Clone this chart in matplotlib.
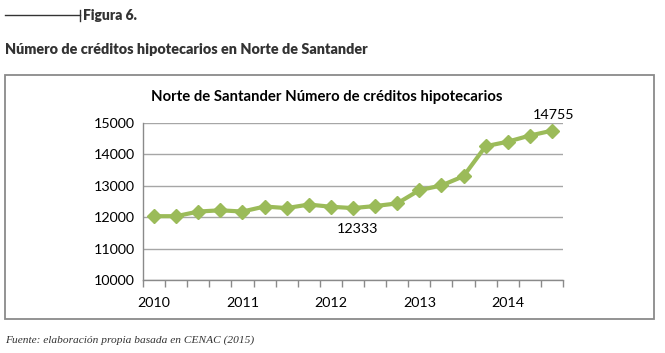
import matplotlib
matplotlib.use("Agg")
import matplotlib.pyplot as plt
from matplotlib.patches import Rectangle
from matplotlib.lines import Line2D
import numpy as np

# ---- data ----
quarters = ["2010", "", "", "", "2011", "", "", "", "2012", "", "", "",
            "2013", "", "", "", "2014", "", ""]
values = [12032, 12032, 12180, 12220, 12180, 12340, 12290, 12403, 12333,
          12290, 12355, 12440, 12860, 13010, 13305, 14260, 14405, 14600, 14755]
yticks = [10000, 11000, 12000, 13000, 14000, 15000]
labeled_idx = [8, 18]

W, H = 665, 353
fig = plt.figure(figsize=(W / 100, H / 100), dpi=100)

def fx(px):
    return px / W

def fy(py):
    return 1 - py / H

cond = ["Lato", "DejaVu Sans"]
cal = ["Lato", "DejaVu Sans"]

# header line with small tick
fig.add_artist(Line2D([fx(5), fx(80)], [fy(15), fy(15)], color="#333333", lw=1.0))
fig.add_artist(Line2D([fx(80), fx(80)], [fy(10), fy(21)], color="#333333", lw=1.0))
fig.text(fx(83), fy(15), "Figura 6.", family=cond, weight="heavy", fontsize=10,
         color="#333333", va="center", ha="left")
fig.text(fx(5), fy(49), "Número de créditos hipotecarios en Norte de Santander",
         family=cond, weight="heavy", fontsize=10.4, color="#333333", va="center", ha="left")

# chart box
fig.add_artist(Rectangle((fx(5), fy(318.5)), fx(654) - fx(5), fy(74.5) - fy(318.5),
                         fill=False, edgecolor="#8a8a8a", lw=1.3))

fig.text(fx(327), fy(97), "Norte de Santander Número de créditos hipotecarios",
         family=cal, weight="bold", fontsize=10.7, color="black", ha="center", va="center")

# axes
ax_l, ax_r, ax_t, ax_b = 143, 563, 123, 280
ax = fig.add_axes([fx(ax_l), fy(ax_b), fx(ax_r) - fx(ax_l), fy(ax_t) - fy(ax_b)])
n = len(values)
x = np.arange(n)
ax.plot(x, values, color="#9bbb59", lw=3, marker="D", markersize=7,
        markeredgecolor="#9bbb59", zorder=3, solid_joinstyle="round")
ax.set_xlim(-0.5, n - 0.5)
ax.set_ylim(yticks[0], yticks[-1])
ax.set_yticks(yticks)
ax.set_yticklabels([str(v) for v in yticks], family=cal, fontsize=10.3)
ax.yaxis.grid(True, color="#a6a6a6", lw=1.0)
ax.set_axisbelow(True)
ax.tick_params(axis="y", length=0, pad=6)

# category boundary ticks on x
ax.set_xticks(np.arange(n + 1) - 0.5)
ax.set_xticklabels([])
ax.tick_params(axis="x", which="major", direction="out", length=5, color="#8a8a8a", width=1)
ax.set_xticks(x, minor=True)
ax.set_xticklabels(quarters, minor=True, family=cal, fontsize=10.3)
ax.tick_params(axis="x", which="minor", length=0, pad=12)

for s in ["top", "right"]:
    ax.spines[s].set_visible(False)
ax.spines["left"].set_color("#8a8a8a")
ax.spines["bottom"].set_color("#8a8a8a")
ax.spines["left"].set_linewidth(1)
ax.spines["bottom"].set_linewidth(1)

# data labels
i = labeled_idx[0]
ax.annotate(str(values[i]), (x[i], values[i]), xytext=(19, -12), textcoords="offset points",
            ha="center", va="top", family=cal, fontsize=10.3, annotation_clip=False)
i = labeled_idx[1]
ax.annotate(str(values[i]), (x[i], values[i]), xytext=(1, 7), textcoords="offset points",
            ha="center", va="bottom", family=cal, fontsize=10.3, annotation_clip=False)

fig.text(fx(5), fy(340), "Fuente: elaboración propia basada en CENAC (2015)",
         family=["Liberation Serif", "DejaVu Serif"], style="italic", fontsize=8.2,
         color="#333333", ha="left", va="center")

fig.savefig("out.png", dpi=100)
